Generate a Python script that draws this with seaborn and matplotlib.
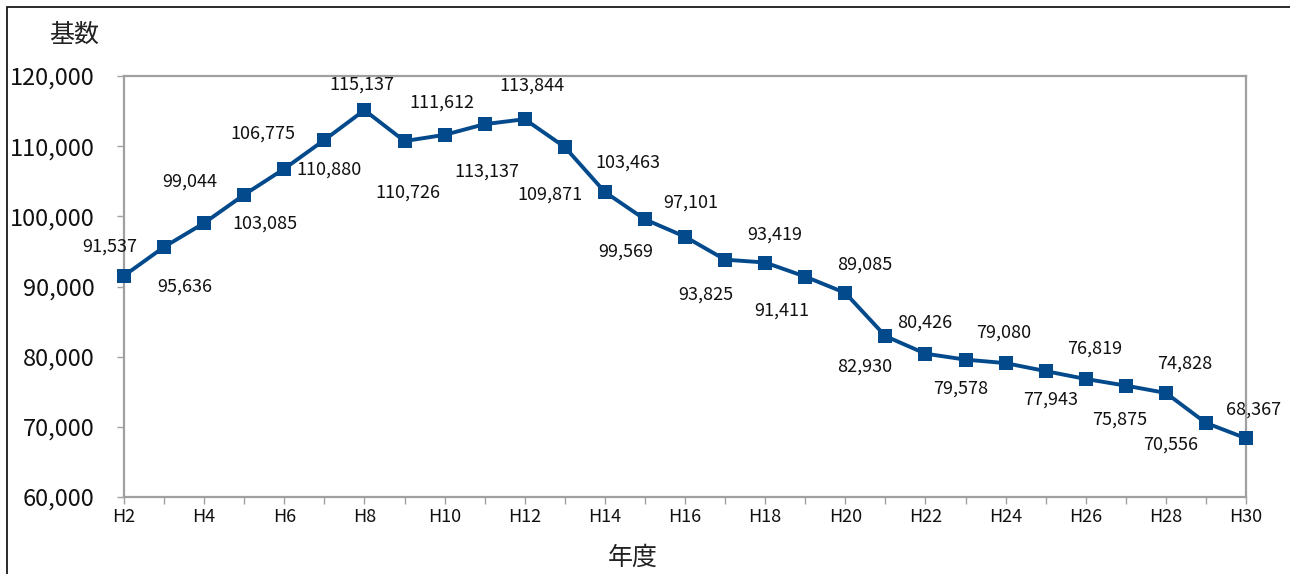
import matplotlib
matplotlib.use("Agg")
import matplotlib.pyplot as plt
import seaborn as sns
import pandas as pd
from matplotlib.patches import Rectangle

# 年度ごとの基数
years = [f"H{n}" for n in range(2, 31)]
counts = [91537, 95636, 99044, 103085, 106775, 110880, 115137, 110726, 111612,
          113137, 113844, 109871, 103463, 99569, 97101, 93825, 93419, 91411,
          89085, 82930, 80426, 79578, 79080, 77943, 76819, 75875, 74828,
          70556, 68367]
ytick_values = [60000, 70000, 80000, 90000, 100000, 110000, 120000]

# data-label offsets from each marker (pixels)
label_dx = [-14, 21, -14, 21, -21, 5, -3, 3, -3, 2, 7, -15, 23, -19, 6, -19,
            10, -23, 19, -21, -1, -5, -2, 5, 9, -6, 19, -35, 8]
label_dy = [29, -40, 41, -29, 35, -30, 25, -52, 32, -47, 34, -48, 29, -32, 34,
            -35, 28, -34, 28, -31, 31, -29, 30, -29, 30, -34, 29, -22, 29]

sns.set_theme(style="white")
plt.rcParams["font.family"] = ["Noto Sans CJK JP", "DejaVu Sans"]

df = pd.DataFrame({"idx": range(len(years)), "year": years, "count": counts})

fig = plt.figure(figsize=(12.9, 5.74), dpi=100)
ax = fig.add_axes([124 / 1290, 1 - 497 / 574, (1246 - 124) / 1290, (497 - 76) / 574])

line_color = "#034A8C"
sns.lineplot(data=df, x="idx", y="count", ax=ax, color=line_color,
             linewidth=2.8, marker="s", markersize=9.5, markeredgewidth=0,
             markerfacecolor=line_color, clip_on=False, zorder=5)

for i, v in enumerate(counts):
    ax.annotate(f"{v:,}", xy=(i, v), xytext=(label_dx[i], label_dy[i]),
                textcoords="offset pixels", ha="center", va="center",
                fontsize=13, color="#111111")

ax.set_xlim(0, len(years) - 1)
ax.set_ylim(ytick_values[0], ytick_values[-1])
ax.set_yticks(ytick_values)
ax.set_yticklabels([f"{v:,}" for v in ytick_values], fontsize=17, color="#111111")
ax.set_xticks(range(len(years)))
ax.set_xticklabels([y if i % 2 == 0 else "" for i, y in enumerate(years)],
                   fontsize=13, color="#111111")
ax.set_xlabel("")
ax.set_ylabel("")

frame_color = "#A0A0A0"
for side in ["left", "right", "top", "bottom"]:
    ax.spines[side].set_visible(True)
    ax.spines[side].set_color(frame_color)
    ax.spines[side].set_linewidth(1.6)
ax.tick_params(axis="both", which="major", direction="out", color=frame_color,
               width=1.0, length=5, left=True, bottom=True)
ax.tick_params(axis="y", pad=16)
ax.tick_params(axis="x", pad=3)
ax.grid(False)

fig.text(74 / 1290, 1 - 35 / 574, "基数", fontsize=18, ha="center", va="center",
         color="#222222")
fig.text(633 / 1290, 1 - 558 / 574, "年度", fontsize=18, ha="center", va="center",
         color="#222222")

# outer chart border
fig.patches.append(Rectangle((7 / 1290, -0.1), 1.2, 1 - 7 / 574 + 0.1,
                             transform=fig.transFigure, fill=False,
                             edgecolor="#1a1a1a", linewidth=1.3))

fig.savefig("out.png", dpi=100, facecolor="white")
